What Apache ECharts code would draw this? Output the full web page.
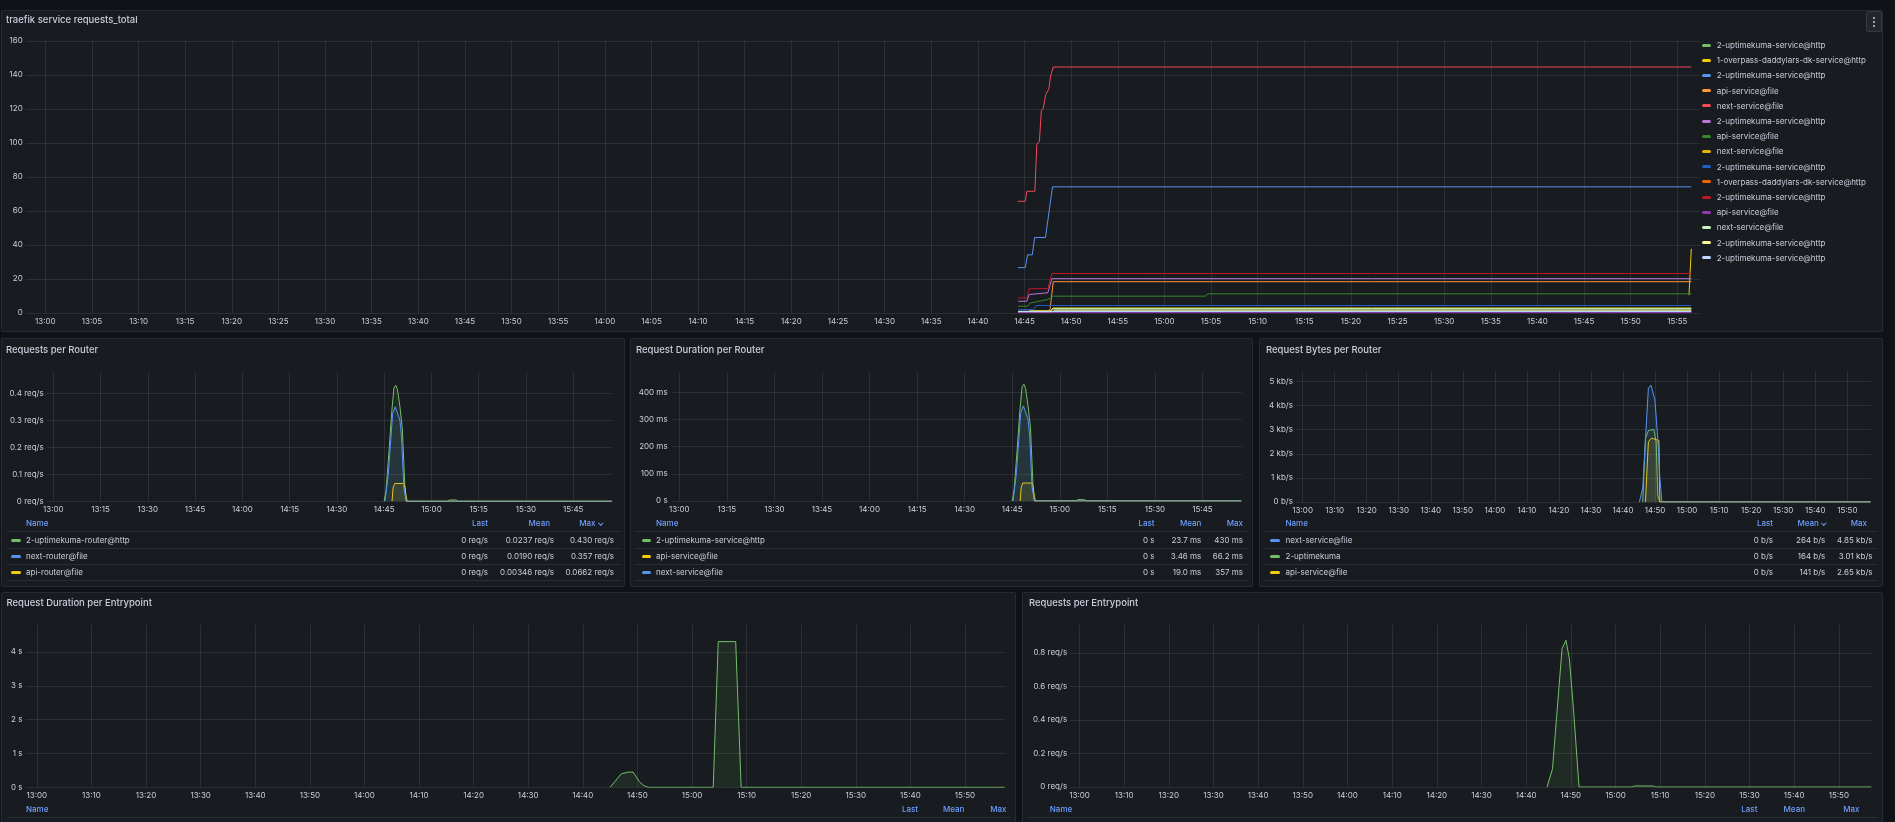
<!DOCTYPE html>
<html lang="en">
<head>
<meta charset="utf-8">
<title>Traefik</title>
<style>
  html, body { margin: 0; width: 100%; height: 100%; overflow: hidden; background: #111217; font-family: Inter, "Noto Sans", sans-serif; }
  .panel { position: absolute; background: #181b1f; box-shadow: inset 0 0 0 1px rgba(204,204,220,0.09); border-radius: 2px; overflow: hidden; }
  .chart { position: absolute; left: 0; top: 0; width: 100%; height: 100%; }
  .title { position: absolute; font-size: 9.5px; font-weight: 500; color: #ccccdc; line-height: 12px; white-space: nowrap; }
  .t { position: absolute; font-size: 8px; line-height: 10px; color: #ccccdc; white-space: nowrap; }
  .hd { color: #6e9fff; font-weight: 500; }
  .mk { position: absolute; width: 9.5px; height: 3px; border-radius: 1.5px; }
  .sep { position: absolute; height: 1px; background: rgba(204,204,220,0.1); }
  .chev { display: inline-block; width: 2.5px; height: 2.5px; border-right: 1px solid #6e9fff; border-bottom: 1px solid #6e9fff; transform: rotate(45deg); margin-left: 3px; position: relative; top: -2px; }
  .menu { position: absolute; width: 16px; height: 21px; border-radius: 3px; background: #23262c; box-shadow: inset 0 0 0 1px rgba(204,204,220,0.12); }
  .menu i { position: absolute; left: 7px; width: 2px; height: 2px; border-radius: 1px; background: #ccccdc; }
</style>
</head>
<body>
<script src="https://cdn.jsdelivr.net/npm/echarts@6.0.0/dist/echarts.min.js"></script>
<script>
// ---- tick labels ----
const ticks5 = ['13:00','13:05','13:10','13:15','13:20','13:25','13:30','13:35','13:40','13:45','13:50','13:55',
  '14:00','14:05','14:10','14:15','14:20','14:25','14:30','14:35','14:40','14:45','14:50','14:55',
  '15:00','15:05','15:10','15:15','15:20','15:25','15:30','15:35','15:40','15:45','15:50','15:55'];
const ticks15 = ['13:00','13:15','13:30','13:45','14:00','14:15','14:30','14:45','15:00','15:15','15:30','15:45'];
const ticks10 = ['13:00','13:10','13:20','13:30','13:40','13:50','14:00','14:10','14:20','14:30','14:40','14:50',
  '15:00','15:10','15:20','15:30','15:40','15:50'];

// ---- traefik service requests_total ----
const reqGreen = [['14:44:20',0.6],['14:46:00',0.6],['14:46:15',1.2],['14:47:45',1.2],['14:48:05',2.2],['15:56:30',2.2]];
const reqYellow = [['15:56:15',10.5],['15:56:30',37.8]];
const reqBlue = [['14:44:17',26.7],['14:45:05',26.7],['14:45:20',34.2],['14:45:50',34.2],['14:46:05',44.4],['14:47:15',44.4],['14:48:00',74.2],['15:56:30',74.2]];
const reqOrange = [['14:44:20',0.4],['14:47:30',0.4],['14:47:45',2.5],['14:48:05',18.4],['15:56:30',18.4]];
const reqRed = [['14:44:17',65.7],['14:45:05',65.7],['14:45:15',71.6],['14:46:07',71.6],['14:46:19',99.1],['14:46:36',101.1],
  ['14:46:48',118.8],['14:47:00',120.2],['14:47:17',128.6],['14:47:36',131.6],['14:47:48',139.4],['14:48:05',144.7],['15:56:30',144.7]];
const reqPurple = [['14:44:20',6.9],['14:45:15',6.9],['14:45:30',10.9],['14:47:30',11.9],['14:47:56',20.2],['15:56:30',20.2]];
const reqDarkGreen = [['14:44:20',4.0],['14:45:20',4.0],['14:45:37',5.9],['14:46:34',6.9],['14:47:30',7.9],['14:48:07',9.9],
  ['15:04:22',9.9],['15:04:41',11.3],['15:56:30',11.3]];
const reqDarkYellow = [['14:45:30',1.4],['14:47:45',1.4],['14:48:05',3.0],['15:56:30',3.0]];
const reqDarkBlue = [['14:44:20',2.0],['14:46:00',2.0],['14:46:15',4.4],['15:56:30',4.4]];
const reqDarkOrange = [['15:56:15',0.4],['15:56:30',0.6]];
const reqDarkRed = [['14:44:20',8.9],['14:45:15',8.9],['14:45:30',14.3],['14:47:30',14.3],['14:47:56',23.2],['15:56:30',23.2]];
const reqDarkPurple = [['14:44:20',0.3],['15:56:30',0.3]];
const reqLightGreen = [['14:44:20',1.0],['14:47:45',1.0],['14:48:05',2.6],['15:56:30',2.6]];
const reqLightYellow = [['14:44:20',0.8],['14:48:00',0.8],['14:48:15',1.6],['15:56:30',1.6]];
const reqLightBlue = [['14:44:20',0.9],['15:56:30',0.9]];

const topNames = ['2-uptimekuma-service@http','1-overpass-daddylars-dk-service@http','2-uptimekuma-service@http','api-service@file',
  'next-service@file','2-uptimekuma-service@http','api-service@file','next-service@file','2-uptimekuma-service@http',
  '1-overpass-daddylars-dk-service@http','2-uptimekuma-service@http','api-service@file','next-service@file',
  '2-uptimekuma-service@http','2-uptimekuma-service@http'];
const topData = [reqGreen, reqYellow, reqBlue, reqOrange, reqRed, reqPurple, reqDarkGreen, reqDarkYellow, reqDarkBlue,
  reqDarkOrange, reqDarkRed, reqDarkPurple, reqLightGreen, reqLightYellow, reqLightBlue];
const topColors = ['#73BF69','#F2CC0C','#5794F2','#FF9830','#F2495C','#B877D9','#37872D','#E0B400','#1F60C4',
  '#FA6400','#C4162A','#8F3BB8','#C8F2C2','#FFF899','#C0D8FF'];

// ---- Requests per Router (req/s) ----
const rrUptime = [['14:45:00',0],['14:45:36',0.04],['14:46:30',0.18],['14:47:24',0.33],['14:48:06',0.42],['14:48:40',0.43],
  ['14:49:12',0.415],['14:50:00',0.35],['14:50:46',0.27],['14:51:37',0.04],['14:52:20',0],['15:05:00',0],
  ['15:05:45',0.005],['15:07:45',0.005],['15:08:30',0],['15:57:15',0]];
const rrNext = [['14:45:15',0],['14:46:18',0.1],['14:47:42',0.326],['14:48:30',0.35],['14:49:00',0.357],['14:50:00',0.30],
  ['14:50:30',0.24],['14:51:15',0.05],['14:52:00',0],['15:57:15',0]];
const rrApi = [['14:47:30',0],['14:47:50',0.05],['14:48:20',0.066],['14:51:15',0.066],['14:51:40',0.05],['14:52:00',0],['15:57:15',0]];

// ---- Request Duration per Router (ms) ----
const rdUptime = [['14:45:00',0],['14:45:36',40],['14:46:30',180],['14:47:24',330],['14:48:06',420],['14:48:40',430],
  ['14:49:12',415],['14:50:00',350],['14:50:46',270],['14:51:37',40],['14:52:20',0],['15:05:00',0],
  ['15:05:45',5],['15:07:45',5],['15:08:30',0],['15:57:15',0]];
const rdApi = [['14:47:30',0],['14:47:50',50],['14:48:20',66.2],['14:51:15',66.2],['14:51:40',50],['14:52:00',0],['15:57:15',0]];
const rdNext = [['14:45:15',0],['14:46:18',100],['14:47:42',326],['14:48:30',350],['14:49:00',357],['14:50:00',300],
  ['14:50:30',240],['14:51:15',50],['14:52:00',0],['15:57:15',0]];

// ---- Request Bytes per Router (kb/s) ----
const rbNext = [['14:45:06',0],['14:46:09',0.58],['14:47:55',4.72],['14:48:42',4.85],['14:49:57',4.24],['14:50:50',2.65],
  ['14:51:30',1.0],['14:52:08',0],['15:57:15',0]];
const rbUptime = [['14:46:09',0],['14:47:00',2.65],['14:47:55',2.96],['14:49:36',3.01],['14:50:20',2.5],['14:50:50',0.3],
  ['14:51:30',0],['15:57:15',0]];
const rbApi = [['14:47:00',0],['14:47:55',2.5],['14:48:54',2.65],['14:51:12',2.55],['14:51:30',0],['15:57:15',0]];

// ---- Request Duration per Entrypoint (s) ----
const edDuration = [['14:45:00',0],['14:47:03',0.40],['14:48:21',0.45],['14:49:12',0.45],['14:50:24',0.16],['14:51:10',0.05],
  ['14:52:00',0],['15:03:53',0],['15:04:48',4.31],['15:08:00',4.31],['15:09:00',0],['15:57:15',0]];

// ---- Requests per Entrypoint (req/s) ----
const erRequests = [['14:44:40',0],['14:45:54',0.109],['14:46:47',0.408],['14:48:02',0.826],['14:48:55',0.876],
  ['14:49:40',0.766],['14:50:35',0.468],['14:51:50',0],['15:03:42',0],['15:04:15',0.006],['15:08:30',0.006],
  ['15:09:00',0],['15:57:15',0]];

// legend tables
const rrRows = [['#73BF69','2-uptimekuma-router@http','0 req/s','0.0237 req/s','0.430 req/s'],
  ['#5794F2','next-router@file','0 req/s','0.0190 req/s','0.357 req/s'],
  ['#F2CC0C','api-router@file','0 req/s','0.00346 req/s','0.0662 req/s']];
const rdRows = [['#73BF69','2-uptimekuma-service@http','0 s','23.7 ms','430 ms'],
  ['#F2CC0C','api-service@file','0 s','3.46 ms','66.2 ms'],
  ['#5794F2','next-service@file','0 s','19.0 ms','357 ms']];
const rbRows = [['#5794F2','next-service@file','0 b/s','264 b/s','4.85 kb/s'],
  ['#73BF69','2-uptimekuma','0 b/s','164 b/s','3.01 kb/s'],
  ['#F2CC0C','api-service@file','0 b/s','141 b/s','2.65 kb/s']];

// ---------------------------------------------------------------
const GRID = 'rgba(240,250,255,0.09)';
const TXT = '#ccccdc';
const X_MIN = -2.1, X_MAX = 177.4;

function tm(s) {
  const p = s.split(':').map(Number);
  return (p[0] - 13) * 60 + p[1] + (p[2] || 0) / 60;
}
function hhmm(v) {
  const m = Math.round(v);
  return (13 + Math.floor(m / 60)) + ':' + String(m % 60).padStart(2, '0');
}
function num(v) { return String(+v.toFixed(3)); }

function makePanel(x, y, w, h, title, tx, ty) {
  const p = document.createElement('div');
  p.className = 'panel';
  p.style.cssText = 'left:' + x + 'px;top:' + y + 'px;width:' + w + 'px;height:' + h + 'px';
  const c = document.createElement('div');
  c.className = 'chart';
  p.appendChild(c);
  document.body.appendChild(p);
  const t = document.createElement('div');
  t.className = 'title';
  t.textContent = title;
  t.style.left = tx + 'px';
  t.style.top = (ty - 6) + 'px';
  p.appendChild(t);
  return { el: p, chart: c };
}

function text(panel, str, cls, x, y, right) {
  const d = document.createElement('div');
  d.className = 't ' + (cls || '');
  d.innerHTML = str;
  if (right) d.style.right = x + 'px'; else d.style.left = x + 'px';
  d.style.top = (y - 5) + 'px';
  panel.appendChild(d);
}
function sep(panel, y, l, r) {
  const d = document.createElement('div');
  d.className = 'sep';
  d.style.cssText = 'top:' + y + 'px;left:' + l + 'px;right:' + r + 'px';
  panel.appendChild(d);
}
function marker(panel, color, x, y) {
  const d = document.createElement('div');
  d.className = 'mk';
  d.style.cssText = 'left:' + x + 'px;top:' + (y - 1.5) + 'px;background:' + color;
  panel.appendChild(d);
}

// legend table: header + rows
function table(panel, cfg, rows) {
  const chev = '<span class="chev"></span>';
  text(panel, 'Name', 'hd', cfg.nameX, cfg.headY);
  cfg.heads.forEach((hd, i) => text(panel, hd[0] + (hd[2] ? chev : ''), 'hd', hd[1], cfg.headY, true));
  sep(panel, cfg.headY + 8, 5.5, 5);
  rows.forEach((r, k) => {
    const y = cfg.headY + 17.3 + k * 16;
    marker(panel, r[0], cfg.markX, y);
    text(panel, r[1], '', cfg.nameX, y);
    cfg.cols.forEach((cx, i) => text(panel, r[2 + i], '', cx, y, true));
    sep(panel, y + 7.7, 5.5, 5);
  });
}

function chartOption(g, ticks, ymax, yint, yfmt, showMax, series, ymargin) {
  const tv = ticks.map(tm);
  return {
    animation: false,
    grid: { left: g[0], top: g[1], width: g[2], height: g[3] },
    xAxis: {
      type: 'value', min: X_MIN, max: X_MAX,
      axisLine: { show: false },
      axisTick: { show: false, customValues: tv },
      axisLabel: { customValues: tv, formatter: hhmm, color: TXT, fontSize: 8, fontFamily: 'Inter', margin: 4, lineHeight: 9 },
      splitLine: { show: true, lineStyle: { color: GRID, width: 1 } }
    },
    yAxis: {
      type: 'value', min: 0, max: ymax, interval: yint,
      axisLine: { show: false },
      axisTick: { show: false },
      axisLabel: { formatter: yfmt, color: TXT, fontSize: 8, fontFamily: 'Inter', margin: ymargin || 3, showMaxLabel: showMax },
      splitLine: { show: true, showMaxLine: showMax, lineStyle: { color: GRID, width: 1 } }
    },
    series: series
  };
}

function line(data, color, fill, z) {
  const s = {
    type: 'line', data: data.map(p => [tm(p[0]), p[1]]),
    showSymbol: false, symbol: 'none', clip: true, z: z || 2,
    lineStyle: { width: 1, color: color }, itemStyle: { color: color },
    emphasis: { disabled: true }
  };
  if (fill) s.areaStyle = { color: color, opacity: 0.1 };
  return s;
}

// ---- panel 1 ----
const p1 = makePanel(1, 10, 1882, 322, 'traefik service requests_total', 5, 10);
echarts.init(p1.chart).setOption(chartOption([24.7, 31, 1674, 272], ticks5, 160, 20, v => num(v), true,
  topData.map((d, i) => line(d, topColors[i], false))));
topNames.forEach((n, i) => {
  const y = 35 + i * 15.2;
  marker(p1.el, topColors[i], 1700.7, y);
  text(p1.el, n, '', 1715.7, y);
});
const menu = document.createElement('div');
menu.className = 'menu';
menu.style.cssText = 'left:1865px;top:1px';
menu.innerHTML = '<i style="top:5.5px"></i><i style="top:9.5px"></i><i style="top:13.5px"></i>';
p1.el.appendChild(menu);

// ---- panel 2 ----
const p2 = makePanel(1, 338, 624, 249, 'Requests per Router', 5, 12);
echarts.init(p2.chart).setOption(chartOption([45.7, 34, 565.6, 129.3], ticks15, 0.479, 0.1,
  v => num(v) + ' req/s', false,
  [line(rrUptime, '#73BF69', true), line(rrNext, '#5794F2', true, 4), line(rrApi, '#F2CC0C', true, 3)]));
table(p2.el, { nameX: 25, markX: 10, headY: 185, heads: [['Last', 137], ['Mean', 75], ['Max', 23, true]], cols: [137, 71, 11] }, rrRows);

// ---- panel 3 ----
const p3 = makePanel(630, 338, 623, 249, 'Request Duration per Router', 6, 12);
echarts.init(p3.chart).setOption(chartOption([42.6, 34, 569.2, 129], ticks15, 475, 100,
  v => v === 0 ? '0 s' : num(v) + ' ms', false,
  [line(rdUptime, '#73BF69', true), line(rdApi, '#F2CC0C', true, 3), line(rdNext, '#5794F2', true, 4)], 5));
table(p3.el, { nameX: 26, markX: 11.5, headY: 185, heads: [['Last', 98.5], ['Mean', 51.7], ['Max', 10]], cols: [98.5, 51.7, 10] }, rdRows);

// ---- panel 4 ----
const p4 = makePanel(1259, 338, 624, 249, 'Request Bytes per Router', 7, 12);
echarts.init(p4.chart).setOption(chartOption([36.9, 33.3, 575.1, 130.7], ticks10, 5.42, 1,
  v => v === 0 ? '0 b/s' : num(v) + ' kb/s', false,
  [line(rbNext, '#5794F2', true, 4), line(rbUptime, '#73BF69', true), line(rbApi, '#F2CC0C', true, 3)]));
table(p4.el, { nameX: 26.5, markX: 11.4, headY: 185, heads: [['Last', 110], ['Mean', 57.7, true], ['Max', 16]], cols: [110, 57.7, 10.5] }, rbRows);

// ---- panel 5 ----
const p5 = makePanel(1, 592, 1015, 240, 'Request Duration per Entrypoint', 5.5, 10.7);
echarts.init(p5.chart).setOption(chartOption([24.4, 32.7, 980, 162.6], ticks10, 4.81, 1,
  v => num(v) + ' s', false, [line(edDuration, '#73BF69', true)]));
table(p5.el, { nameX: 25, markX: 10, headY: 217.3, heads: [['Last', 98], ['Mean', 51.6], ['Max', 9.5]], cols: [] }, []);

// ---- panel 6 ----
const p6 = makePanel(1022, 592, 861, 240, 'Requests per Entrypoint', 7, 10.7);
echarts.init(p6.chart).setOption(chartOption([48.1, 32.7, 801.8, 162.3], ticks10, 0.969, 0.2,
  v => num(v) + ' req/s', false, [line(erRequests, '#73BF69', true)]));
table(p6.el, { nameX: 27.8, markX: 12, headY: 217.3, heads: [['Last', 125.6], ['Mean', 78], ['Max', 23.5]], cols: [] }, []);
</script>
</body>
</html>
